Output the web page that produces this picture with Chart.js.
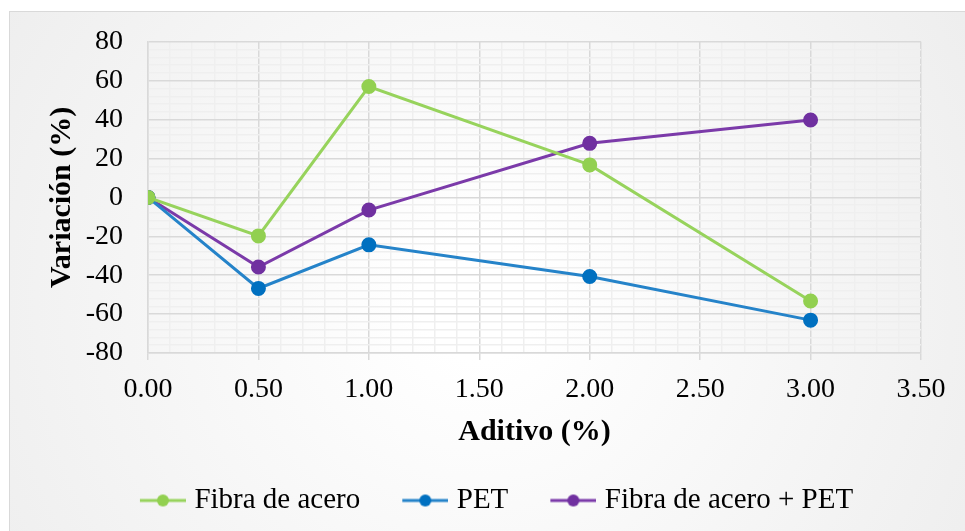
<!DOCTYPE html>
<html lang="es">
<head>
  <meta charset="UTF-8">
  <title>Variación vs Aditivo</title>
  <style>
    html, body { margin: 0; padding: 0; background: #fff; }
    #wrap { width: 965px; height: 531px; }
  </style>
</head>
<body>
  <div id="wrap"><canvas id="grafico" width="965" height="531"></canvas></div>
  <script src="https://cdn.jsdelivr.net/npm/chart.js"></script>
  <script>
    // datos
    const aditivo = [0, 0.5, 1.0, 2.0, 3.0];
    const fibraAcero = [0, -19.8, 57, 16.7, -53.3];
    const pet = [0, -46.8, -24.4, -40.7, -63.1];
    const fibraPet = [0, -35.8, -6.5, 27.8, 39.8];
    const seriesNames = ["Fibra de acero", "PET", "Fibra de acero + PET"];
    const xTicks = [0, 0.5, 1, 1.5, 2, 2.5, 3, 3.5];
    const yTicks = [-80, -60, -40, -20, 0, 20, 40, 60, 80];

    const FONT = "'Liberation Serif', 'Times New Roman', serif";
    const lineCols = ["#97d35c", "#2583c9", "#7b3aa9"];
    const dotCols = ["#92d050", "#0070c0", "#7030a0"];

    // icono de leyenda: linea con punto, pegado a la derecha del lienzo
    function legendIcon(lc, dc) {
      const c = document.createElement("canvas");
      c.width = 60; c.height = 14;
      const g = c.getContext("2d");
      g.strokeStyle = lc; g.lineWidth = 3;
      g.beginPath(); g.moveTo(14, 7); g.lineTo(60, 7); g.stroke();
      g.fillStyle = dc;
      g.beginPath(); g.arc(37, 7, 6, 0, Math.PI * 2); g.fill();
      return c;
    }
    const icons = lineCols.map((c, i) => legendIcon(c, dotCols[i]));

    const isMajor = (v, list) => list.some(t => Math.abs(t - v) < 1e-6);

    const fondo = {
      id: "fondo",
      beforeDraw(chart) {
        const ctx = chart.ctx;
        ctx.save();
        ctx.fillStyle = "#fff";
        ctx.fillRect(0, 0, chart.width, chart.height);
        const grd = ctx.createRadialGradient(480, 300, 60, 480, 300, 620);
        grd.addColorStop(0, "#ffffff");
        grd.addColorStop(1, "#ececec");
        ctx.fillStyle = grd;
        ctx.fillRect(9, 11, 956, 520);
        ctx.strokeStyle = "#d9d9d9";
        ctx.lineWidth = 1;
        ctx.strokeRect(9.5, 11.5, 960, 525);
        ctx.restore();
      }
    };

    const mk = (ys) => aditivo.map((x, i) => ({ x: x, y: ys[i] }));
    const valores = [fibraAcero, pet, fibraPet];
    const padL = 20;

    new Chart(document.getElementById("grafico"), {
      type: "line",
      data: {
        datasets: valores.map((v, i) => ({
          label: seriesNames[i],
          data: mk(v),
          borderColor: lineCols[i],
          backgroundColor: dotCols[i],
          pointBackgroundColor: dotCols[i],
          pointBorderColor: dotCols[i],
          borderWidth: 3,
          pointRadius: 6,
          pointStyle: "circle",
          tension: 0
        }))
      },
      options: {
        responsive: false,
        animation: false,
        events: [],
        layout: { padding: { left: padL, right: 0, top: 38, bottom: 6 } },
        scales: {
          x: {
            type: "linear",
            min: 0, max: 3.5,
            afterFit: s => { s.height = 99; s.paddingRight = 44; },
            ticks: {
              stepSize: 0.1,
              autoSkip: false,
              maxRotation: 0,
              padding: 13,
              color: "#000",
              font: { family: FONT, size: 28 },
              callback: v => isMajor(v, xTicks) ? v.toFixed(2) : ""
            },
            grid: {
              color: c => isMajor(c.tick.value, xTicks) ? "#d9d9d9" : "#efefef",
              lineWidth: 1.5,
              tickColor: c => isMajor(c.tick.value, xTicks) ? "#d9d9d9" : "rgba(0,0,0,0)",
              tickLength: 7
            },
            border: { color: "#d9d9d9", width: 1.5 },
            title: {
              display: true,
              text: "Aditivo (%)",
              color: "#000",
              font: { family: FONT, size: 30, weight: "bold" },
              padding: { top: 3, bottom: 2 }
            }
          },
          y: {
            min: -80, max: 80,
            afterFit: s => { s.width = 148 - padL; },
            ticks: {
              stepSize: 4,
              autoSkip: false,
              padding: 25,
              color: "#000",
              font: { family: FONT, size: 28 },
              callback: v => isMajor(v, yTicks) ? String(v) : ""
            },
            grid: {
              color: c => isMajor(c.tick.value, yTicks) ? "#d9d9d9" : "#efefef",
              lineWidth: 1.5,
              drawTicks: false
            },
            border: { color: "#d9d9d9", width: 1.5 },
            title: {
              display: true,
              text: "Variación (%)",
              color: "#000",
              font: { family: FONT, size: 30, weight: "bold" },
              padding: { top: 24, bottom: 0 }
            }
          }
        },
        plugins: {
          legend: {
            position: "bottom",
            labels: {
              usePointStyle: true,
              pointStyleWidth: 48,
              padding: 34,
              color: "#000",
              font: { family: FONT, size: 29 },
              generateLabels: chart => {
                const items = Chart.defaults.plugins.legend.labels.generateLabels(chart);
                items.forEach((it, i) => { it.pointStyle = icons[i]; });
                return items;
              }
            }
          },
          tooltip: { enabled: false }
        }
      },
      plugins: [fondo]
    });
  </script>
</body>
</html>
